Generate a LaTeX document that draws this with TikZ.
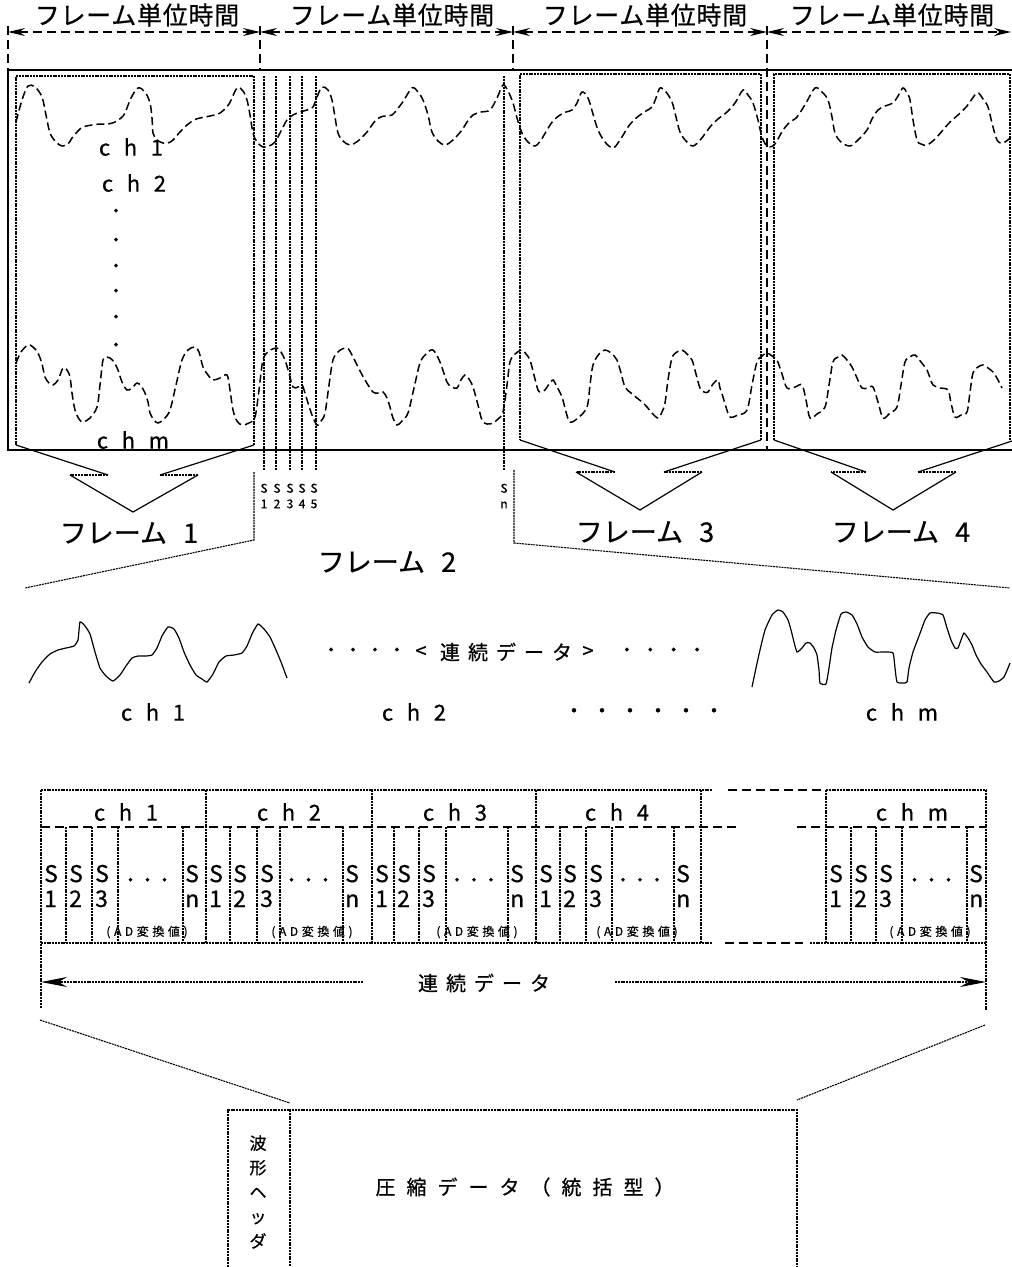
\documentclass[tikz,border=0pt]{standalone}
\usepackage{fontspec}
\setmainfont{Noto Sans CJK JP}[FakeBold=0.6]
\usetikzlibrary{arrows.meta}
\newcommand\myls[2]{\fontsize{#1}{#1}\selectfont\addfontfeatures{LetterSpace=#2}}
\newcommand\myfs[2]{\fontsize{#1}{#2}\selectfont}
\tikzset{
 solidln/.style={line width=1.5pt},
 fine/.style={line width=1.1pt, dash pattern=on 2pt off 0.8pt},
 thinln/.style={line width=1.2pt},
 wave/.style={line width=1.5pt, dash pattern=on 8pt off 4pt, smooth, tension=0.55},
 ldash/.style={line width=1.4pt, dash pattern=on 9pt off 5pt},
 swave/.style={line width=1.2pt, smooth, tension=0.3},
 hdrarr/.style={ldash, {Stealth[length=17pt,width=8pt]}-{Stealth[length=17pt,width=8pt]}},
 lbl/.style={inner sep=0pt},
}
\begin{document}
\begin{tikzpicture}[x=1pt,y=-1pt]
\useasboundingbox (0,0) rectangle (1012,1267);
% ---------- header ----------
\coordinate (t0) at (8,32); \coordinate (t1) at (260,32);
\coordinate (t2) at (513,32); \coordinate (t3) at (767,32);
\coordinate (t4) at (1011,32);
\draw[hdrarr] (t0) -- (t1);
\draw[hdrarr] (t1) -- (t2);
\draw[hdrarr] (t2) -- (t3);
\draw[hdrarr] (t3) -- (t4);
\draw[ldash] (8,26) -- (8,70);
\draw[ldash] (260,26) -- (260,70);
\draw[ldash] (513,26) -- (513,70);
\draw[ldash] (767,26) -- (767,450);
\foreach \x/\n in {137/1,392/2,645/3,892/4}
  \node[lbl, font=\myls{25}{3}] (hd\n) at (\x,15) {フレーム単位時間};
% ---------- big rectangle ----------
\draw[solidln] (1012,70) -- (8,70) -- (8,450) -- (1012,450);
% ---------- frame 1 ----------
\draw[fine] (254,445) -- (254,76) -- (16,76) -- (16,445);
\draw[thinln] (16,445) -- (108,475);
\draw[fine] (108,475) -- (70,475);
\draw[thinln] (70,475) -- (133,512) -- (198,475);
\draw[fine] (198,475) -- (160,475);
\draw[thinln] (160,475) -- (254,445);
% ---------- frame 3 ----------
\draw[fine] (761,440) -- (761,74) -- (520,74) -- (520,440);
\draw[thinln] (520,440) -- (615,472);
\draw[fine] (615,472) -- (576,472);
\draw[thinln] (576,472) -- (640,510) -- (702,472);
\draw[fine] (702,472) -- (664,472);
\draw[thinln] (664,472) -- (761,440);
% ---------- frame 4 ----------
\draw[fine] (1010,440) -- (1010,74) -- (774,74) -- (774,440);
\draw[thinln] (774,440) -- (866,472);
\draw[fine] (866,472) -- (831,472);
\draw[thinln] (831,472) -- (893,510) -- (956,472);
\draw[fine] (956,472) -- (918,472);
\draw[thinln] (918,472) -- (1012,441);
% ---------- frame 2 samples ----------
\foreach \x in {264,276,290,302,316,504}
  \draw[fine] (\x,76) -- (\x,470);
\foreach \x/\d/\n in {264/1/1,277/2/2,290/3/3,302/4/4,314/5/5,504/n/6}
  \node[lbl, font=\myfs{12}{15.5}, align=center] (sl\n) at (\x,496) {S\\\d};
% frame 2 bracket
\draw[fine] (254,472) -- (254,540) -- (25,588);
\draw[fine] (514,470) -- (514,543) -- (1010,588);
% frame labels
\node[lbl, font=\myfs{27}{27}] (f1) at (129,533) {フレーム\hspace{0.6em}1};
\node[lbl, font=\myfs{27}{27}] (f2) at (387,562) {フレーム\hspace{0.6em}2};
\node[lbl, font=\myfs{27}{27}] (f3) at (645,532) {フレーム\hspace{0.6em}3};
\node[lbl, font=\myfs{27}{27}] (f4) at (901,532) {フレーム\hspace{0.6em}4};
% ---------- waves ----------
\draw[wave] plot coordinates {(16,122) (22,100) (28,86) (35,87) (42,97) (46,115) (50,133) (56,142) (62,146) (68,144) (72,138) (78,131) (83,127) (92,125) (100,124) (108,124) (115,122) (121,118) (125,113) (131,98) (138,88) (145,92) (150,103) (152,118) (153,133) (157,140) (163,143) (168,143) (173,140) (180,132) (187,125) (194,120) (200,118) (210,116) (220,113) (229,104) (237,88) (243,91) (247,100) (250,115) (253,133) (257,142) (263,147) (269,146) (275,142) (281,131) (287,120) (293,115) (300,112) (307,110) (313,107) (317,97) (322,87) (328,90) (332,100) (335,117) (338,133) (343,141) (350,145) (358,141) (367,132) (372,125) (377,119) (384,116) (392,115) (402,103) (412,88) (418,92) (423,100) (428,115) (432,132) (438,141) (445,145) (453,140) (462,130) (467,122) (473,115) (481,112) (490,110) (497,98) (503,85) (508,91) (513,103) (517,118) (522,133) (528,142) (535,146) (541,140) (547,130) (553,121) (560,115) (566,112) (572,110) (577,103) (582,92) (588,98) (593,114) (598,130) (605,142) (613,148) (620,140) (628,127) (634,120) (640,115) (646,111) (652,107) (656,98) (660,88) (666,92) (672,102) (676,117) (680,132) (686,141) (693,146) (701,139) (710,127) (718,119) (727,112) (735,103) (743,90) (748,95) (753,103) (758,120) (762,137) (767,146) (773,146) (778,139) (783,130) (790,122) (797,117) (806,103) (815,88) (822,92) (828,100) (832,117) (835,133) (841,142) (850,146) (858,140) (867,130) (872,119) (878,110) (885,106) (893,103) (898,96) (903,88) (907,93) (910,100) (913,120) (917,140) (921,144) (927,145) (935,139) (943,130) (950,122) (958,115) (967,106) (977,93) (983,99) (988,107) (992,123) (997,140) (1003,143) (1010,138)};
\draw[wave] plot coordinates {(16,363) (21,352) (28,345) (33,347) (38,353) (42,364) (45,377) (49,383) (53,385) (58,380) (63,368) (67,370) (70,377) (72,393) (75,410) (79,419) (83,422) (90,418) (97,407) (100,385) (103,360) (107,357) (110,358) (114,362) (118,370) (122,382) (127,390) (132,388) (137,383) (141,386) (145,393) (148,402) (150,413) (154,420) (158,423) (164,419) (170,410) (176,385) (182,360) (188,350) (195,347) (199,352) (203,367) (208,375) (213,380) (220,378) (227,375) (230,390) (233,410) (237,421) (242,425) (249,423) (255,417) (259,390) (263,360) (269,351) (277,348) (281,352) (285,360) (289,373) (293,387) (298,387) (302,385) (305,393) (308,403) (312,415) (317,425) (321,421) (325,413) (329,385) (333,360) (339,351) (347,348) (352,355) (358,367) (365,380) (373,392) (378,393) (383,392) (387,398) (390,407) (393,418) (397,425) (402,421) (408,413) (414,388) (420,363) (426,354) (433,350) (440,362) (447,382) (452,387) (457,388) (461,380) (465,375) (469,379) (473,387) (478,405) (482,420) (487,424) (493,423) (498,419) (503,412) (507,385) (510,362) (515,354) (522,350) (526,354) (530,360) (534,375) (538,390) (541,392) (545,390) (549,384) (553,380) (557,387) (562,397) (566,412) (570,422) (578,418) (587,407) (590,385) (593,365) (599,354) (605,350) (611,353) (617,360) (621,373) (625,387) (631,393) (637,398) (642,402) (647,407) (652,413) (658,418) (662,412) (665,403) (668,380) (672,358) (677,352) (682,350) (687,354) (692,360) (696,374) (700,388) (704,392) (708,392) (713,384) (718,380) (720,388) (723,397) (726,407) (730,417) (738,415) (747,410) (752,385) (757,362) (762,356) (767,353) (772,356) (777,360) (782,374) (787,388) (795,387) (802,385) (806,400) (810,418) (817,414) (825,407) (829,385) (833,362) (838,357) (842,355) (847,360) (852,367) (857,378) (862,388) (868,388) (873,387) (878,402) (883,418) (890,413) (897,407) (901,385) (905,362) (910,357) (915,355) (921,362) (927,370) (930,378) (933,385) (940,388) (948,390) (951,403) (955,417) (961,415) (967,412) (970,392) (973,373) (978,367) (983,365) (988,368) (993,372) (998,380) (1002,388)};
% ch labels in frame 1
\node[lbl, font=\myls{22}{62}] (c1) at (131,147) {ch1};
\node[lbl, font=\myls{22}{62}] (c2) at (134,183) {ch2};
\node[lbl, font=\myls{22}{62}] (cm) at (133,440) {chm};
\foreach \y/\n in {213/1,242/2,268/3,293/4,319/5,347/6}
  \node[lbl, font=\myfs{18}{18}] (vd\n) at (116,\y) {・};
% ---------- middle row ----------
\draw[swave] plot coordinates {(29,683) (35,672) (42,662) (50,654) (58,650) (66,648) (74,646) (78,640) (80,622) (85,626) (90,634) (95,652) (100,668) (106,676) (113,681) (120,675) (126,666) (132,658) (138,656) (146,656) (152,655) (157,648) (162,636) (168,627) (174,629) (179,638) (184,652) (190,665) (196,675) (202,679) (207,682) (213,674) (219,662) (226,656) (234,655) (242,653) (247,646) (252,634) (258,624) (264,629) (270,637) (276,650) (281,662) (287,678)};
\draw[swave] plot coordinates {(752,687) (756,668) (760,650) (765,630) (772,615) (778,610) (783,612) (788,620) (791,630) (794,642) (797,652) (802,648) (806,643) (810,643) (814,648) (817,655) (819,670) (820,683) (826,684) (829,668) (832,648) (836,630) (841,614) (846,612) (852,615) (857,624) (862,637) (868,647) (875,652) (884,652) (893,653) (895,668) (897,682) (903,683) (907,682) (909,668) (913,652) (919,636) (925,620) (930,613) (937,613) (943,615) (947,628) (951,640) (955,648) (958,648) (961,640) (964,633) (968,638) (972,645) (976,655) (981,664) (987,672) (994,682) (999,681) (1004,677) (1008,668) (1010,663)};
\node[lbl, font=\myls{18}{22}] (md1) at (364,652) {・・・・};
\node[lbl, font=\myfs{20}{20}] (lt) at (421,652) {<};
\node[lbl, font=\myls{20}{40}] (ren1) at (506,652) {連続データ};
\node[lbl, font=\myfs{20}{20}] (gt) at (588,652) {>};
\node[lbl, font=\myls{18}{30}] (md2) at (662,652) {・・・・};
\node[lbl, font=\myls{22}{62}] (mc1) at (153,712) {ch1};
\node[lbl, font=\myls{22}{62}] (mc2) at (414,712) {ch2};
\node[lbl, font=\myls{20}{40}] (md3) at (644,713) {・・・・・・};
\node[lbl, font=\myls{22}{62}] (mcm) at (902,712) {chm};
% ---------- table ----------
\draw[fine] (41,790) -- (712,790);
\draw[ldash] (728,790) -- (826,790);
\draw[fine] (826,790) -- (986,790);
\draw[ldash] (41,827) -- (737,827);
\draw[ldash] (797,827) -- (986,827);
\draw[fine] (41,943) -- (712,943);
\draw[ldash] (725,943) -- (803,943);
\draw[fine] (810,943) -- (986,943);
\draw[fine] (41,790) -- (41,1008);
\draw[fine] (986,790) -- (986,1010);
\foreach \a/\b/\c/\d/\e/\f/\lab/\lx/\adx/\n in
  {41/66/92/118/183/206/1/126/147/1,
   206/230/257/280/343/372/2/289/312/2,
   372/394/419/446/508/536/3/455/477/3,
   536/560/586/612/674/701/4/617/637/4,
   826/851/876/902/967/986/m/912/930/5}{
  \draw[fine] (\a,790) -- (\a,943);
  \draw[fine] (\f,790) -- (\f,943);
  \foreach \x in {\b,\c,\d,\e} \draw[fine] (\x,827) -- (\x,943);
  \node[lbl, font=\myls{22}{62}] (th\n) at (\lx,812) {ch\lab};
  \node[lbl, anchor=west, align=left, font=\myfs{23}{25}] (sa\n) at ({\a+3},886) {S\\1};
  \node[lbl, anchor=west, align=left, font=\myfs{23}{25}] (sb\n) at ({\b+3},886) {S\\2};
  \node[lbl, anchor=west, align=left, font=\myfs{23}{25}] (sc\n) at ({\c+3},886) {S\\3};
  \node[lbl, anchor=west, align=left, font=\myfs{23}{25}] (sn\n) at ({\e+2},886) {S\\n};
  \node[lbl, font=\myls{17}{0}] (dt\n) at ({(\d+\e)/2-3},882) {・・・};
  \node[lbl, font=\myls{12}{30}] (ad\n) at (\adx,932) {(AD変換値)};
}
\coordinate (al) at (41,982); \coordinate (ar) at (986,982);
\coordinate (als) at (363,982); \coordinate (ars) at (615,982);
\draw[fine, -{Stealth[length=26pt,width=10pt]}] (als) -- (al);
\draw[fine, -{Stealth[length=26pt,width=10pt]}] (ars) -- (ar);
\node[lbl, font=\myls{20}{40}] (ren2) at (484,983) {連続データ};
% ---------- bottom ----------
\draw[fine] (40,1020) -- (290,1103);
\draw[fine] (985,1025) -- (797,1100);
\draw[fine] (228,1267) -- (228,1110) -- (797,1110) -- (797,1267);
\draw[fine] (290,1110) -- (290,1267);
\node[lbl, font=\myfs{17}{24.5}, align=center] (hdr) at (258,1192) {波\\形\\ヘ\\ッ\\ダ};
\node[lbl, font=\myls{20}{55}] (cmp) at (525,1187) {圧縮データ（統括型）};
\end{tikzpicture}
\end{document}
